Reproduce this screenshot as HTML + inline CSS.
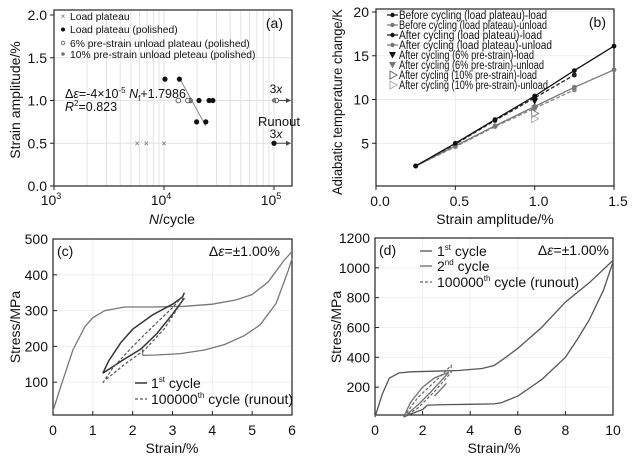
<!DOCTYPE html>
<html><head><meta charset="utf-8"><style>
html,body{margin:0;padding:0;background:#fff;}
svg{display:block;font-family:"Liberation Sans",sans-serif;}
</style></head><body>
<svg id="fig" width="632" height="458" viewBox="0 0 632 458" xmlns="http://www.w3.org/2000/svg"></svg>
<script>
// ---------- Panel (a) data ----------
const aLoadN = [5700, 6900, 10000];
const aLoadS = [0.5, 0.5, 0.5];
const aPolN = [10200, 13800, 17300, 20800, 25700, 27800, 19800, 24000, 100000];
const aPolS = [1.25, 1.25, 1.0, 1.0, 1.0, 1.0, 0.75, 0.75, 0.5];
const a6N = [13500, 16500, 105000];
const a6S = [1.0, 1.0, 1.0];
const a10N = [17500, 100000];
const a10S = [1.0, 1.0];
const aFitN = [14000, 24000];
const aFitS = [1.25, 0.70];
const aYTicks = [0, 0.5, 1.0, 1.5, 2.0];
const aYTickLabels = ["0.0", "0.5", "1.0", "1.5", "2.0"];
// ---------- Panel (b) data ----------
const bX = [0.25, 0.5, 0.75, 1.0, 1.25, 1.5];
const bBeforeLoad = [2.4, 5.0, 7.7, 10.4, 13.3, 16.1];
const bBeforeUnload = [2.4, 4.7, 7.0, 9.2, 11.4, 13.4];
const bAfterLoad = [2.4, 4.9, 7.6, 10.2, 12.8];
const bAfterUnload = [2.4, 4.6, 6.9, 9.0, 11.1];
const b6Load = [9.8], b6Unload = [9.0], b6X = [1.0];
const b10Load = [8.4], b10Unload = [7.8];
const bXTicks = [0, 0.5, 1.0, 1.5];
const bXTickLabels = ["0.0", "0.5", "1.0", "1.5"];
const bYTicks = [5, 10, 15, 20];
// ---------- Panel (c) data ----------
const cLoadX = [0,0.2,0.5,0.8,1.0,1.3,1.8,2.5,3.3,4.0,4.6,5.0,5.4,5.8,6.0];
const cLoadY = [20,90,190,255,280,300,310,310,312,318,330,345,380,440,465];
const cUnloadX = [6.0,5.9,5.6,5.2,4.8,4.3,3.8,3.2,2.6,2.25];
const cUnloadY = [445,410,320,260,230,205,190,180,176,175];
const cTickX = [2.25,2.25];
const cTickY = [175,192];
const cUpperX = [1.25,1.4,1.7,2.0,2.5,3.0,3.25,3.3];
const cUpperY = [125,160,210,248,288,318,338,350];
const cLowerX = [3.3,3.0,2.6,2.2,1.8,1.25];
const cLowerY = [335,290,235,192,165,125];
const cDashX = [1.25,1.5,2.0,2.5,3.0,3.25,3.25,2.8,2.3,1.8,1.3];
const cDashY = [98,140,200,255,308,340,328,250,190,150,105];
const cXTicks = [0,1,2,3,4,5,6];
const cYTicks = [100,200,300,400,500];
// ---------- Panel (d) data ----------
const dLoadX = [0,0.3,0.6,1.0,1.5,2.5,3.5,4.5,5,5.5,6,7,8,9,10];
const dLoadY = [0,150,260,295,303,307,312,325,345,400,460,600,770,900,1050];
const dUnloadX = [10,9.6,9,8.5,8,7,6,5.3,5,4,3,2.2,2.0,1.5,1.2];
const dUnloadY = [1040,850,650,520,400,250,140,95,88,85,83,80,50,20,0];
const d2X = [1.2,1.5,2.0,2.5,3.1,2.7,2.3,1.8,1.2];
const d2Y = [0,100,200,262,300,230,160,80,0];
const d2TailX = [2.5,3.0];
const d2TailY = [140,225];
const dDashX = [1.2,1.8,2.5,3.2,3.2,2.5,1.8,1.2];
const dDashY = [0,130,235,345,300,170,60,0];
const dXTicks = [0,2,4,6,8,10];
const dYTicks = [200,400,600,800,1000,1200];

const NS = "http://www.w3.org/2000/svg";
const svg = document.getElementById("fig");
function mk(tag, attrs, parent){
  const e = document.createElementNS(NS, tag);
  for (const k in attrs) e.setAttribute(k, attrs[k]);
  (parent||svg).appendChild(e);
  return e;
}
function txt(s, x, y, size, anchor, parent, extra){
  const t = mk("text", Object.assign({x:x, y:y, "font-size":size, "text-anchor":anchor||"middle", fill:"#111"}, extra||{}), parent);
  t.textContent = s;
  return t;
}
function lin(d0,d1,r0,r1){ return v => r0 + (v-d0)*(r1-r0)/(d1-d0); }
function pathD(xs, ys, sx, sy){ return xs.map((v,i)=>(i?"L":"M")+sx(v).toFixed(1)+","+sy(ys[i]).toFixed(1)).join(""); }

// ================= Panel (a) =================
const ga = mk("g", {});


const ax = v => 54 + (Math.log10(v)-3)*110;
const ay = lin(0, 2, 186, 15);
for (let d=3; d<=5; d++) for (let m=1; m<10; m++){
  const v = m*Math.pow(10,d); const x = ax(v);
  if (x>54 && x<292) { const l = mk("line",{x1:x,x2:x,y1:10,y2:186,stroke:"#e2e2e2","stroke-width":1},ga);
      }
}
[0.5,1.0,1.5].forEach(v=>{ mk("line",{x1:54,x2:292,y1:ay(v),y2:ay(v),stroke:"#e2e2e2"},ga); });
const fa = mk("rect",{x:54,y:10,width:238,height:176,fill:"none",stroke:"#222","stroke-width":1.2},ga);
 
aYTicks.forEach((v,i)=>{ mk("line",{x1:54,x2:50,y1:ay(v),y2:ay(v),stroke:"#222"},ga);
  const t = txt(aYTickLabels[i], 47, ay(v)+5, 14, "end", ga);   });
[3,4,5].forEach(d=>{ const x=ax(Math.pow(10,d)); mk("line",{x1:x,x2:x,y1:186,y2:190,stroke:"#222"},ga);
  const t = mk("text",{x:x-3,y:205,"font-size":14,"text-anchor":"middle",fill:"#111"},ga);
   
  t.innerHTML = '10<tspan font-size="9" dy="-6">'+d+'</tspan>'; });
let t = mk("text",{x:172,y:224,"font-size":14,"text-anchor":"middle",fill:"#111"},ga);
t.innerHTML = '<tspan font-style="italic">N</tspan>/cycle';
 
t = txt("Strain amplitude/%", 0, 0, 14, "middle", ga, {transform:"translate(20,100) rotate(-90)"});
 
t = txt("(a)", 283, 28, 14, "end", ga);  
const fl = mk("line",{x1:ax(aFitN[0]),y1:ay(aFitS[0]),x2:ax(aFitN[1]),y2:ay(aFitS[1]),stroke:"#888","stroke-width":1},ga);
 
[1.0,0.5].forEach(v=>{ mk("line",{x1:ax(100000),x2:286,y1:ay(v),y2:ay(v),stroke:"#444"},ga);
  mk("path",{d:`M286,${ay(v)-2.5}L291,${ay(v)}L286,${ay(v)+2.5}Z`,fill:"#444"},ga); });
txt("3", 276, 93, 12, "middle", ga).innerHTML='3<tspan font-style="italic">x</tspan>';
txt("3", 276, 138, 12, "middle", ga).innerHTML='3<tspan font-style="italic">x</tspan>';
t = txt("Runout", 279, 126, 13, "middle", ga);  
t = mk("text",{x:65,y:98,"font-size":12.5,fill:"#111"},ga);
t.innerHTML='Δ<tspan font-style="italic">ε</tspan>=-4×10<tspan font-size="8" dy="-5">-5</tspan><tspan dy="5"> </tspan><tspan font-style="italic">N</tspan><tspan font-size="8" dy="3">f</tspan><tspan dy="-3">+1.7986</tspan>';
 
t = mk("text",{x:65,y:111,"font-size":12.5,fill:"#111"},ga);
t.innerHTML='<tspan font-style="italic">R</tspan><tspan font-size="8" dy="-5">2</tspan><tspan dy="5">=0.823</tspan>';
 
aLoadN.forEach((n,i)=>{ const x=ax(n), y=ay(aLoadS[i]);
  const m = mk("text",{x:x,y:y+3,"font-size":9,"text-anchor":"middle",fill:"#666"},ga); m.textContent="×";
    });
aPolN.forEach((n,i)=>{ const c = mk("circle",{cx:ax(n),cy:ay(aPolS[i]),r:2.6,fill:"#111"},ga);
    });
a6N.forEach((n,i)=>{ const c = mk("circle",{cx:ax(n),cy:ay(a6S[i]),r:2.3,fill:"#fff",stroke:"#555","stroke-width":0.9},ga);
    });
a10N.forEach((n,i)=>{ const c = mk("circle",{cx:ax(n),cy:ay(a10S[i]),r:2.2,fill:"#777"},ga);
    });
const la = mk("g",{},ga);  
t=mk("text",{x:63,y:19,"font-size":8,"text-anchor":"middle",fill:"#666"},la); t.textContent="×";
mk("circle",{cx:63,cy:29.5,r:2,fill:"#111"},la);
mk("circle",{cx:63,cy:43,r:1.8,fill:"#fff",stroke:"#555","stroke-width":0.8},la);
mk("circle",{cx:63,cy:54,r:1.8,fill:"#777"},la);
[["Load plateau",20],["Load plateau (polished)",33],["6% pre-strain unload plateau (polished)",47],["10% pre-strain unload pleteau (polished)",58]].forEach(r=>{
  const e = txt(r[0], 70, r[1], 10.3, "start", la);   });

// ================= Panel (b) =================
const gb = mk("g", {});


const bx = lin(0,1.5,376,614), by = lin(0,20,187,12);
bXTicks.forEach(v=>{ mk("line",{x1:bx(v),x2:bx(v),y1:9,y2:186,stroke:"#ececec"},gb); });
bYTicks.forEach(v=>{ mk("line",{x1:376,x2:614,y1:by(v),y2:by(v),stroke:"#ececec"},gb); });
const fb = mk("rect",{x:376,y:9,width:238,height:177,fill:"none",stroke:"#222","stroke-width":1.2},gb);
 
bXTicks.forEach((v,i)=>{ mk("line",{x1:bx(v),x2:bx(v),y1:186,y2:190,stroke:"#222"},gb);
  const e=txt(bXTickLabels[i], bx(v)+4, 206, 14, "middle", gb);   });
bYTicks.forEach(v=>{ mk("line",{x1:376,x2:372,y1:by(v),y2:by(v),stroke:"#222"},gb);
  const e=txt(String(v), 369, by(v)+5, 14, "end", gb);   });
t = txt("Strain amplitude/%", 495, 224, 14, "middle", gb);  
t = txt("Adiabatic temperature change/K", 0, 0, 13.5, "middle", gb, {transform:"translate(342,102) rotate(-90)", textLength:186, lengthAdjust:"spacingAndGlyphs"});
 
t = txt("(b)", 606, 27, 14, "end", gb);  
function series(xs, ys, color, dash, name){
  const p = mk("path",{d:pathD(xs,ys,bx,by),fill:"none",stroke:color,"stroke-width":1.3,"stroke-dasharray":dash||"none"},gb);
   
  ys.forEach((y,i)=>{ const c=mk("circle",{cx:bx(xs[i]),cy:by(y),r:2.4,fill:color},gb);
      });
}
series(bX.slice(0,bAfterUnload.length), bAfterUnload, "#888", "4,2", "after-unload-line");
series(bX.slice(0,bAfterLoad.length), bAfterLoad, "#222", "4,2", "after-load-line");
series(bX, bBeforeUnload, "#777", null, "before-unload-line");
series(bX, bBeforeLoad, "#111", null, "before-load-line");
function tri(x,y,dir,fill,stroke,name){
  let d = dir==="down" ? `M${x-3.5},${y-3}L${x+3.5},${y-3}L${x},${y+3.5}Z` : `M${x-3},${y-4}L${x+4},${y}L${x-3},${y+4}Z`;
  const p = mk("path",{d:d,fill:fill,stroke:stroke,"stroke-width":0.9},gb);
   
}
b6X.forEach((v,i)=>{ tri(bx(v),by(b6Load[i]),"down","#111","none","pre6-load-point"); tri(bx(v),by(b6Unload[i]),"down","#777","none","pre6-unload-point");
  tri(bx(v),by(b10Load[i]),"right","none","#777","pre10-load-point"); tri(bx(v),by(b10Unload[i]),"right","none","#aaa","pre10-unload-point"); });
const lb = mk("g",{},gb);  
const bLeg = ["Before cycling (load plateau)-load","Before cycling (load plateau)-unload","After cycling (load plateau)-load","After cycling (load plateau)-unload","After cycling (6% pre-strain)-load","After cycling (6% pre-strain)-unload","After cycling (10% pre-strain)-load","After cycling (10% pre-strain)-unload"];
const bLegW = [148,148,143,153,135,145,138,149];
bLeg.forEach((s,i)=>{ const y = 15 + i*10;
  if (i<4){ const col = (i%2===0)?"#111":"#777"; mk("line",{x1:387,x2:398,y1:y,y2:y,stroke:col,"stroke-width":1.2},lb); mk("circle",{cx:392.5,cy:y,r:2.2,fill:col},lb); }
  else if (i<6){ const col=i===4?"#111":"#777"; mk("path",{d:`M389,${y-3}L396,${y-3}L392.5,${y+3.5}Z`,fill:col},lb); }
  else { const col=i===6?"#666":"#aaa"; mk("path",{d:`M390,${y-4}L397,${y}L390,${y+4}Z`,fill:"none",stroke:col},lb); }
  const e = txt(s, 399, y+4, 11.5, "start", lb, {textLength:bLegW[i], lengthAdjust:"spacingAndGlyphs"});
    });

// ================= Panel (c) =================
const gc = mk("g", {});


const cx = lin(0,6,53,292), cy = lin(0,500,418,239);
cXTicks.forEach(v=>{ mk("line",{x1:cx(v),x2:cx(v),y1:239,y2:415,stroke:"#efefef"},gc); });
cYTicks.forEach(v=>{ mk("line",{x1:53,x2:292,y1:cy(v),y2:cy(v),stroke:"#efefef"},gc); });
const fc = mk("rect",{x:53,y:239,width:239,height:176,fill:"none",stroke:"#222","stroke-width":1.2},gc);
 
cXTicks.forEach(v=>{ mk("line",{x1:cx(v),x2:cx(v),y1:415,y2:411,stroke:"#222"},gc);
  const e=txt(String(v), cx(v), 435, 14, "middle", gc);   });
cYTicks.forEach(v=>{ mk("line",{x1:53,x2:57,y1:cy(v),y2:cy(v),stroke:"#222"},gc);
  const e=txt(String(v), 48, cy(v)+5, 14, "end", gc);   });
t = txt("Strain/%", 172, 453, 14, "middle", gc);  
t = txt("Stress/MPa", 0, 0, 14, "middle", gc, {transform:"translate(20,327) rotate(-90)"});
 
t = txt("(c)", 57, 256, 14, "start", gc);  
t = mk("text",{x:280,y:256,"font-size":14,"text-anchor":"end",fill:"#111"},gc);
t.innerHTML='Δ<tspan font-style="italic">ε</tspan>=±1.00%';  
let p = mk("path",{d:pathD(cLoadX,cLoadY,cx,cy)+pathD(cUnloadX,cUnloadY,cx,cy)+pathD(cTickX,cTickY,cx,cy),fill:"none",stroke:"#777","stroke-width":1.3},gc);
 
p = mk("path",{d:pathD(cUpperX,cUpperY,cx,cy)+pathD(cLowerX,cLowerY,cx,cy),fill:"none",stroke:"#333","stroke-width":1.5},gc);
 
p = mk("path",{d:pathD(cDashX,cDashY,cx,cy),fill:"none",stroke:"#555","stroke-width":1.2,"stroke-dasharray":"3,2"},gc);
 
const lc = mk("g",{},gc);  
mk("line",{x1:135,x2:147,y1:383,y2:383,stroke:"#444","stroke-width":1.6},lc);
mk("line",{x1:135,x2:147,y1:399,y2:399,stroke:"#555","stroke-width":1.3,"stroke-dasharray":"3,2"},lc);
t = mk("text",{x:151,y:388,"font-size":14,fill:"#111"},lc); t.innerHTML='1<tspan font-size="8" dy="-6">st</tspan><tspan dy="6"> cycle</tspan>';
t = mk("text",{x:151,y:404,"font-size":14,fill:"#111"},lc); t.innerHTML='100000<tspan font-size="8" dy="-6">th</tspan><tspan dy="6"> cycle (runout)</tspan>';

// ================= Panel (d) =================
const gd = mk("g", {});


const dx = lin(0,10,375,613), dy = lin(0,1200,417,238);
dXTicks.forEach(v=>{ mk("line",{x1:dx(v),x2:dx(v),y1:238,y2:415,stroke:"#efefef"},gd); });
dYTicks.forEach(v=>{ mk("line",{x1:375,x2:613,y1:dy(v),y2:dy(v),stroke:"#efefef"},gd); });
const fd = mk("rect",{x:375,y:238,width:238,height:177,fill:"none",stroke:"#222","stroke-width":1.2},gd);
 
dXTicks.forEach(v=>{ mk("line",{x1:dx(v),x2:dx(v),y1:415,y2:411,stroke:"#222"},gd);
  const e=txt(String(v), dx(v), 435, 14, "middle", gd);   });
dYTicks.forEach(v=>{ mk("line",{x1:375,x2:379,y1:dy(v),y2:dy(v),stroke:"#222"},gd);
  const e=txt(String(v), 370, dy(v)+5, 14, "end", gd);   });
t = txt("Strain/%", 494, 453, 14, "middle", gd);  
t = txt("Stress/MPa", 0, 0, 14, "middle", gd, {transform:"translate(341,327) rotate(-90)"});
 
t = txt("(d)", 379, 255, 14, "start", gd);  
t = mk("text",{x:609,y:255,"font-size":14,"text-anchor":"end",fill:"#111"},gd);
t.innerHTML='Δ<tspan font-style="italic">ε</tspan>=±1.00%';  
p = mk("path",{d:pathD(dLoadX,dLoadY,dx,dy)+pathD(dUnloadX,dUnloadY,dx,dy),fill:"none",stroke:"#555","stroke-width":1.3},gd);
 
p = mk("path",{d:pathD(d2X,d2Y,dx,dy)+pathD(d2TailX,d2TailY,dx,dy),fill:"none",stroke:"#777","stroke-width":1.4},gd);
 
p = mk("path",{d:pathD(dDashX,dDashY,dx,dy),fill:"none",stroke:"#666","stroke-width":1.2,"stroke-dasharray":"3,2"},gd);
 
const ld = mk("g",{},gd);  
mk("line",{x1:420,x2:432,y1:251,y2:251,stroke:"#555","stroke-width":1.3},ld);
mk("line",{x1:420,x2:432,y1:266,y2:266,stroke:"#888","stroke-width":1.6},ld);
mk("line",{x1:420,x2:432,y1:282,y2:282,stroke:"#666","stroke-width":1.3,"stroke-dasharray":"3,2"},ld);
t = mk("text",{x:437,y:256,"font-size":14,fill:"#111"},ld); t.innerHTML='1<tspan font-size="8" dy="-6">st</tspan><tspan dy="6"> cycle</tspan>';
t = mk("text",{x:437,y:271,"font-size":14,fill:"#111"},ld); t.innerHTML='2<tspan font-size="8" dy="-6">nd</tspan><tspan dy="6"> cycle</tspan>';
t = mk("text",{x:437,y:287,"font-size":14,fill:"#111"},ld); t.innerHTML='100000<tspan font-size="8" dy="-6">th</tspan><tspan dy="6"> cycle (runout)</tspan>';
</script>
</body></html>
